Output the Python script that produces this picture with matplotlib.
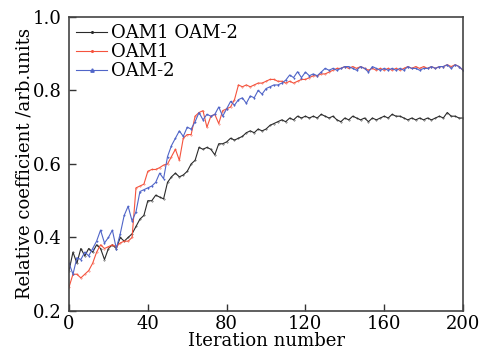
import matplotlib
matplotlib.use("Agg")
import matplotlib.pyplot as plt
import numpy as np

plt.rcParams['font.family'] = ['DejaVu Serif']
plt.rcParams['mathtext.fontset'] = 'dejavuserif'

iterations = list(range(0, 201, 2))

oam_both = [0.31, 0.36, 0.33, 0.37, 0.35, 0.37, 0.36, 0.38, 0.37, 0.34,
            0.37, 0.38, 0.37, 0.40, 0.39, 0.40, 0.41, 0.43, 0.45, 0.46,
            0.50, 0.50, 0.515, 0.51, 0.505, 0.55, 0.565, 0.575, 0.565, 0.57,
            0.58, 0.60, 0.61, 0.645, 0.64, 0.645, 0.64, 0.625, 0.655, 0.655,
            0.66, 0.67, 0.665, 0.67, 0.675, 0.685, 0.69, 0.685, 0.695, 0.69,
            0.695, 0.705, 0.71, 0.715, 0.72, 0.715, 0.725, 0.72, 0.73, 0.725,
            0.73, 0.725, 0.73, 0.725, 0.735, 0.73, 0.725, 0.73, 0.72, 0.715,
            0.725, 0.72, 0.73, 0.725, 0.72, 0.725, 0.715, 0.725, 0.72, 0.725,
            0.73, 0.725, 0.735, 0.73, 0.73, 0.725, 0.72, 0.725, 0.72, 0.725,
            0.72, 0.725, 0.72, 0.725, 0.73, 0.725, 0.74, 0.73, 0.73, 0.725,
            0.725]

oam1 = [0.265, 0.30, 0.30, 0.29, 0.30, 0.31, 0.33, 0.36, 0.38, 0.37,
        0.375, 0.38, 0.375, 0.385, 0.39, 0.39, 0.40, 0.535, 0.54, 0.545,
        0.58, 0.585, 0.585, 0.59, 0.597, 0.60, 0.62, 0.64, 0.61, 0.67,
        0.68, 0.68, 0.73, 0.74, 0.745, 0.70, 0.73, 0.735, 0.71, 0.745,
        0.75, 0.755, 0.775, 0.815, 0.81, 0.815, 0.81, 0.815, 0.82, 0.82,
        0.825, 0.83, 0.83, 0.825, 0.825, 0.82, 0.825, 0.82, 0.825, 0.83,
        0.83, 0.835, 0.84, 0.84, 0.845, 0.845, 0.85, 0.855, 0.86, 0.86,
        0.865, 0.86, 0.865, 0.86, 0.865, 0.86, 0.855, 0.86, 0.855, 0.86,
        0.855, 0.86, 0.855, 0.86, 0.855, 0.86, 0.865, 0.86, 0.865, 0.86,
        0.865, 0.86, 0.865, 0.86, 0.865, 0.865, 0.87, 0.865, 0.87, 0.865,
        0.855]

oam_m2 = [0.33, 0.30, 0.345, 0.34, 0.36, 0.35, 0.37, 0.39, 0.42, 0.385,
          0.40, 0.42, 0.37, 0.41, 0.46, 0.485, 0.445, 0.47, 0.525, 0.53,
          0.535, 0.54, 0.55, 0.575, 0.56, 0.62, 0.65, 0.67, 0.69, 0.675,
          0.70, 0.695, 0.715, 0.74, 0.72, 0.735, 0.73, 0.735, 0.755, 0.73,
          0.75, 0.77, 0.76, 0.775, 0.78, 0.765, 0.785, 0.78, 0.80, 0.79,
          0.805, 0.81, 0.815, 0.815, 0.82, 0.828, 0.842, 0.835, 0.851, 0.835,
          0.85, 0.84, 0.845, 0.84, 0.85, 0.86, 0.855, 0.86, 0.855, 0.86,
          0.865, 0.865, 0.86, 0.855, 0.865, 0.86, 0.85, 0.865, 0.86, 0.855,
          0.86, 0.855, 0.86, 0.855, 0.86, 0.855, 0.865, 0.86, 0.86, 0.855,
          0.86, 0.86, 0.865, 0.86, 0.865, 0.865, 0.87, 0.86, 0.87, 0.865,
          0.855]

labels = ['OAM1 OAM-2', 'OAM1', 'OAM-2']
colors = ['#2a2a2a', '#f5533d', '#5065c8']
markers = ['.', '.', '^']

x_ticks = [0, 40, 80, 120, 160, 200]
y_ticks = [0.2, 0.4, 0.6, 0.8, 1.0]

fig = plt.figure(figsize=(4.81, 3.53), dpi=100)
ax = fig.add_axes([0.1435, 0.119, 0.8191, 0.833])

for series, lab, col, mk in zip([oam_both, oam1, oam_m2], labels, colors, markers):
    ax.plot(iterations, series, color=col, lw=0.8, marker=mk, markersize=0.6,
            label=lab)

ax.set_xlim(0, 200)
ax.set_ylim(0.2, 1.0)
ax.set_xticks(x_ticks)
ax.set_yticks(y_ticks)
ax.set_yticklabels([f'{v:.1f}' for v in y_ticks])
ax.tick_params(direction='in', length=5, width=1, labelsize=13,
               top=False, right=False, colors='#333333', labelcolor='black')
ax.tick_params(axis='y', pad=5)
ax.tick_params(axis='x', pad=3)
for s in ax.spines.values():
    s.set_color('#444444')
    s.set_linewidth(1.2)

ax.set_xlabel('Iteration number', fontsize=13, labelpad=-1)
ax.set_ylabel('Relative coefficient /arb.units', fontsize=13, labelpad=0)

leg = ax.legend(loc='upper left', fontsize=13, frameon=True, framealpha=1,
                edgecolor='none', facecolor='white', handlelength=1.7,
                handletextpad=0.2, borderpad=0.1, labelspacing=0.05,
                borderaxespad=0.3, markerscale=4)

fig.savefig('out.png', dpi=100)
